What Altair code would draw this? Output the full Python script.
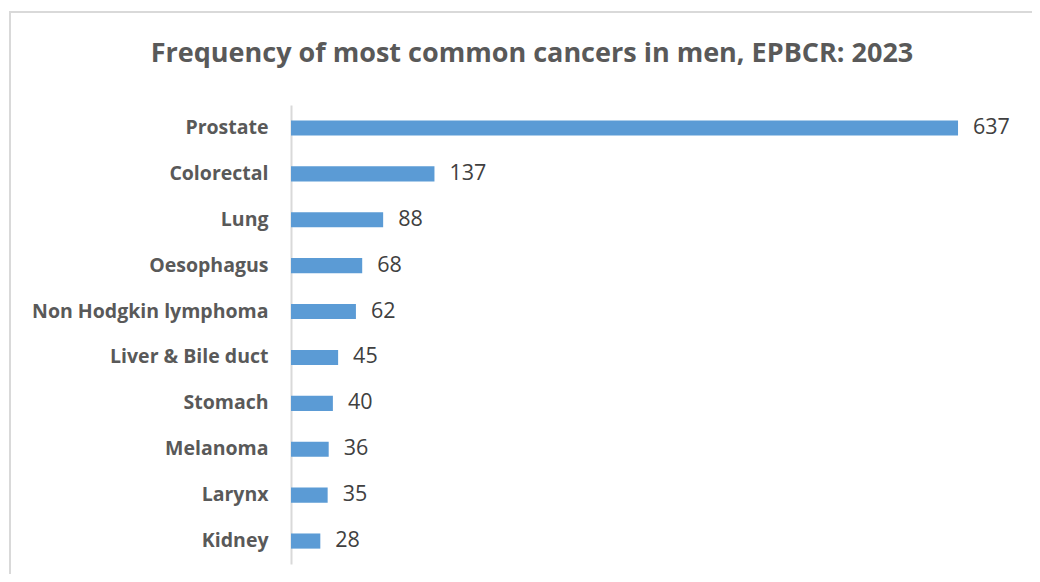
import altair as alt
import pandas as pd

cancers = ["Prostate", "Colorectal", "Lung", "Oesophagus", "Non Hodgkin lymphoma",
           "Liver & Bile duct", "Stomach", "Melanoma", "Larynx", "Kidney"]
counts = [637, 137, 88, 68, 62, 45, 40, 36, 35, 28]
title_text = "Frequency of most common cancers in men, EPBCR: 2023"

df = pd.DataFrame({"cancer": cancers, "count": counts})

FONT = "Open Sans"
GREY = "#595959"

base = alt.Chart(df).encode(
    y=alt.Y("cancer:N", sort=cancers, title=None,
            scale=alt.Scale(paddingInner=0.67, paddingOuter=0.335),
            axis=alt.Axis(ticks=False, domain=True, domainColor="#d9d9d9", domainWidth=2,
                          labelFont=FONT, labelFontWeight="bold", labelFontSize=19.5,
                          labelColor=GREY, labelPadding=23, labelLimit=400, grid=False)),
    x=alt.X("count:Q", title=None, scale=alt.Scale(domain=[0, 700], nice=False),
            axis=None),
)

bars = base.mark_bar(color="#5b9bd5")
labels = base.mark_text(align="left", dx=15, font=FONT, fontSize=21.5, color="#404040").encode(
    text="count:Q")

one = pd.DataFrame({"a": [0]})
frame = alt.Chart(one).mark_rect(
    fill=None, stroke="#d9d9d9", strokeWidth=2
).encode(x=alt.value(-281), x2=alt.value(800), y=alt.value(-93), y2=alt.value(600))

title = alt.Chart(one).mark_text(
    font=FONT, fontSize=27, fontWeight="bold", color=GREY, align="center", baseline="alphabetic"
).encode(x=alt.value(241), y=alt.value(-43), text=alt.value(title_text))

chart = alt.layer(frame, title, bars, labels).properties(
    width=733, height=459,
    padding={"left": 283, "top": 97, "right": 8, "bottom": 10},
    autosize=alt.AutoSizeParams(type="none"),
).configure_view(stroke=None)

chart.save("out.html", embed_options={"renderer": "svg", "actions": False})
